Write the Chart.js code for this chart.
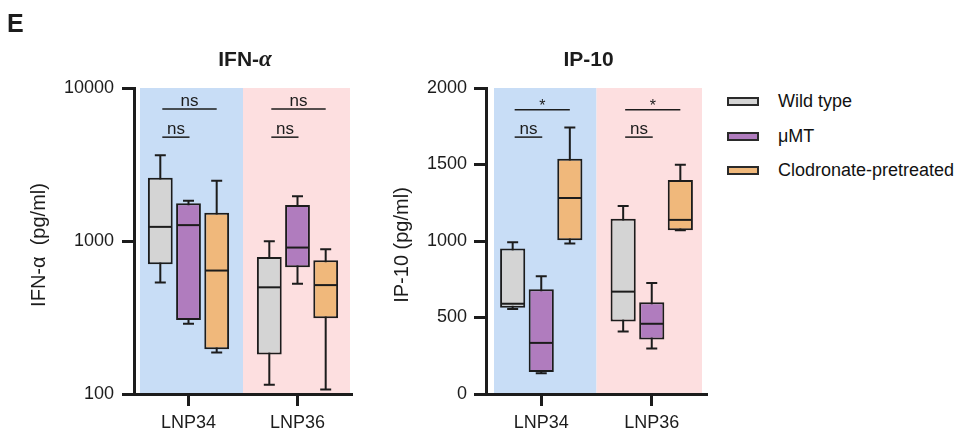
<!DOCTYPE html>
<html>
<head>
<meta charset="utf-8">
<script src="https://cdn.jsdelivr.net/npm/chart.js@4.4.1/dist/chart.umd.min.js"></script>
<style>
  html, body { margin: 0; padding: 0; background: #fff; width: 960px; height: 434px; overflow: hidden; }
  body { font-family: "Liberation Sans", Arial, sans-serif; color: #111; }
  canvas { position: absolute; top: 0; }
  #ifn { left: 0; }
  #ip10 { left: 360px; }
  .lg-swatch { position: absolute; left: 727px; width: 32px; height: 9px; box-sizing: border-box; border: 2px solid #2a2a2a; }
  .lg-text { position: absolute; left: 778px; font-size: 18px; line-height: 20px; white-space: nowrap; }
</style>
</head>
<body>
<canvas id="ifn" width="360" height="434"></canvas>
<canvas id="ip10" width="360" height="434"></canvas>
<div id="legend"></div>
<script>
// Categories and groups
const categories = ['LNP34', 'LNP36'];
const groups = ['Wild type', 'μMT', 'Clodronate-pretreated'];
const groupColors = ['#d4d4d4', '#b07cbe', '#f0b87b'];
const bandColors = ['#c8ddf6', '#fddfe0'];

// Five-number summaries per category: [min, q1, median, q3, max]
const ifnWildType = [[535, 705, 1237, 2594, 3640], [115, 181, 498, 787, 997]];
const ifnMuMT     = [[288, 305, 1270, 1762, 1832], [526, 673, 906, 1717, 1959]];
const ifnClod     = [[187, 196, 641, 1528, 2478], [107, 313, 515, 748, 883]];

const ipWildType  = [[555, 564, 590, 951, 992], [409, 474, 669, 1145, 1228]];
const ipMuMT      = [[135, 144, 334, 684, 769], [297, 356, 459, 599, 725]];
const ipClod      = [[984, 1005, 1281, 1538, 1742], [1071, 1071, 1138, 1399, 1499]];

// Axis ticks
const ifnTicks = [100, 1000, 10000];
const ipTicks = [0, 500, 1000, 1500, 2000];

// Significance labels per category (top bracket: WT vs Clodronate, lower: WT vs μMT)
const ifnSigTop = ['ns', 'ns'];
const ifnSigLow = ['ns', 'ns'];
const ipSigTop = ['*', '*'];
const ipSigLow = ['ns', 'ns'];

const FONT = '"Liberation Sans", Arial, sans-serif';
const INK = '#1c1c1c';

const boxPlugin = {
  id: 'boxplot',
  beforeDraw(chart, args, o) {
    const { ctx, chartArea: a, scales: { x } } = chart;
    const n = chart.data.labels.length;
    const half = (x.getPixelForValue(1) - x.getPixelForValue(0)) / 2;
    ctx.save();
    for (let i = 0; i < n; i++) {
      const c = x.getPixelForValue(i);
      let l = c - half, r = c + half;
      if (i === 0) l = a.left + o.bandInset[0];
      if (i === n - 1) r = a.right - o.bandInset[1];
      ctx.fillStyle = o.bands[i];
      ctx.fillRect(l, a.top, r - l, a.bottom - a.top);
    }
    ctx.restore();
  },
  beforeDatasetsDraw(chart) {
    const { ctx, scales: { y } } = chart;
    ctx.save();
    ctx.strokeStyle = INK;
    ctx.lineWidth = 2;
    chart.data.datasets.forEach((ds, d) => {
      const meta = chart.getDatasetMeta(d);
      ds.stats.forEach((s, i) => {
        const bar = meta.data[i];
        const cx = bar.x, cap = 5.5;
        const yMin = y.getPixelForValue(s[0]);
        const yMax = y.getPixelForValue(s[4]);
        ctx.beginPath();
        ctx.moveTo(cx, yMin); ctx.lineTo(cx, yMax);
        ctx.moveTo(cx - cap, yMin); ctx.lineTo(cx + cap, yMin);
        ctx.moveTo(cx - cap, yMax); ctx.lineTo(cx + cap, yMax);
        ctx.stroke();
      });
    });
    ctx.restore();
  },
  afterDatasetsDraw(chart, args, o) {
    const { ctx, scales: { y } } = chart;
    ctx.save();
    ctx.strokeStyle = INK;
    ctx.lineWidth = 2;
    chart.data.datasets.forEach((ds, d) => {
      const meta = chart.getDatasetMeta(d);
      ds.stats.forEach((s, i) => {
        const bar = meta.data[i];
        const ym = y.getPixelForValue(s[2]);
        ctx.beginPath();
        ctx.moveTo(bar.x - bar.width / 2 + 1, ym);
        ctx.lineTo(bar.x + bar.width / 2 - 1, ym);
        ctx.stroke();
      });
    });

    // significance brackets
    const m0 = chart.getDatasetMeta(0), m1 = chart.getDatasetMeta(1), m2 = chart.getDatasetMeta(2);
    ctx.lineWidth = 1.5;
    ctx.fillStyle = INK;
    ctx.textAlign = 'center';
    ctx.textBaseline = 'alphabetic';
    const drawSig = (label, x0, x1, v) => {
      const yy = y.getPixelForValue(v);
      ctx.beginPath();
      ctx.moveTo(x0, yy); ctx.lineTo(x1, yy);
      ctx.stroke();
      if (label === '*') {
        ctx.font = '16px ' + FONT;
        ctx.fillText(label, (x0 + x1) / 2, yy + 1);
      } else {
        ctx.font = '17px ' + FONT;
        ctx.fillText(label, (x0 + x1) / 2, yy - 3);
      }
    };
    categories.forEach((c, i) => {
      const xs = m0.data[i].x + 2;
      drawSig(o.sigTop[i], xs, m2.data[i].x, o.sigTopAt);
      drawSig(o.sigLow[i], xs, m1.data[i].x + 1, o.sigLowAt);
    });
    ctx.restore();
  },
  afterDraw(chart, args, o) {
    const { ctx, chartArea: a } = chart;
    ctx.save();
    ctx.fillStyle = INK;
    // chart title (may contain a Greek part drawn in italic)
    const parts = o.title;
    ctx.textBaseline = 'alphabetic';
    ctx.textAlign = 'left';
    let total = 0;
    parts.forEach(p => { ctx.font = p.font; total += ctx.measureText(p.text).width; });
    let tx = (a.left + a.right) / 2 + o.titleShift - total / 2;
    parts.forEach(p => { ctx.font = p.font; ctx.fillText(p.text, tx, a.top - 22); tx += ctx.measureText(p.text).width; });

    // y-axis title
    ctx.save();
    ctx.translate(o.yTitleX, (a.top + a.bottom) / 2 + 4);
    ctx.rotate(-Math.PI / 2);
    ctx.textAlign = 'center';
    ctx.textBaseline = 'middle';
    ctx.font = '20px ' + FONT;
    ctx.fillText(o.yTitle, 0, 0);
    ctx.restore();

    if (o.panel) {
      ctx.font = 'bold 25px ' + FONT;
      ctx.textAlign = 'left';
      ctx.fillText(o.panel, 7, 32);
    }
    ctx.restore();
  }
};

function makeDatasets(statsList) {
  return statsList.map((stats, g) => ({
    label: groups[g],
    stats: stats,
    data: stats.map(s => [s[1], s[3]]),
    backgroundColor: groupColors[g],
    borderColor: INK,
    borderWidth: 2,
    borderSkipped: false,
    categoryPercentage: 0.776,
    barPercentage: 0.88
  }));
}

function axisCommon() {
  return {
    grid: { display: true, drawOnChartArea: false, drawTicks: true, tickLength: 12, tickWidth: 3, tickColor: INK, color: 'rgba(0,0,0,0)' },
    border: { display: true, color: INK, width: 3 }
  };
}

function makeChart(id, statsList, yScale, leftWidth, rightPad, plug) {
  return new Chart(document.getElementById(id), {
    type: 'bar',
    data: { labels: categories, datasets: makeDatasets(statsList) },
    options: {
      responsive: false,
      animation: false,
      devicePixelRatio: 1,
      layout: { padding: { top: 88, right: rightPad, left: 0, bottom: 0 } },
      plugins: { legend: { display: false }, tooltip: { enabled: false }, title: { display: false }, boxplot: plug },
      scales: {
        x: Object.assign(axisCommon(), {
          type: 'category',
          offset: true,
          grid: Object.assign(axisCommon().grid, { offset: false }),
          ticks: { font: { size: 18, family: FONT }, color: INK, padding: 6, maxRotation: 0 },
          afterFit: s => { s.height = 40; }
        }),
        y: Object.assign(axisCommon(), yScale, {
          afterFit: s => { s.width = leftWidth; }
        })
      }
    },
    plugins: [boxPlugin]
  });
}

makeChart('ifn', [ifnWildType, ifnMuMT, ifnClod], {
  type: 'logarithmic', min: 100, max: 10000,
  afterBuildTicks: s => { s.ticks = ifnTicks.map(v => ({ value: v })); },
  ticks: { callback: v => String(v), font: { size: 18, family: FONT }, color: INK, padding: 8 }
}, 134, 8, {
  bands: bandColors, bandInset: [6, 2],
  sigTop: ifnSigTop, sigLow: ifnSigLow, sigTopAt: 7280, sigLowAt: 4772,
  title: [{ text: 'IFN-', font: 'bold 21px ' + FONT }, { text: 'α', font: 'italic bold 23px "Liberation Serif", serif' }],
  titleShift: 2,
  yTitle: 'IFN-α  (pg/ml)', yTitleX: 39, panel: 'E'
});

makeChart('ip10', [ipWildType, ipMuMT, ipClod], {
  type: 'linear', min: 0, max: 2000,
  afterBuildTicks: s => { s.ticks = ipTicks.map(v => ({ value: v })); },
  ticks: { callback: v => String(v), font: { size: 18, family: FONT }, color: INK, padding: 7 }
}, 126, 13, {
  bands: bandColors, bandInset: [8, 5],
  sigTop: ipSigTop, sigLow: ipSigLow, sigTopAt: 1858, sigLowAt: 1679,
  title: [{ text: 'IP-10', font: 'bold 21px ' + FONT }],
  titleShift: -8,
  yTitle: 'IP-10 (pg/ml)', yTitleX: 42, panel: null
});

// Legend
const legend = document.getElementById('legend');
const legendRows = [101, 136, 170];
groups.forEach((g, i) => {
  const sw = document.createElement('div');
  sw.className = 'lg-swatch';
  sw.style.top = (legendRows[i] - 4.5) + 'px';
  sw.style.background = groupColors[i];
  const tx = document.createElement('div');
  tx.className = 'lg-text';
  tx.style.top = (legendRows[i] - 10) + 'px';
  tx.textContent = g;
  legend.appendChild(sw);
  legend.appendChild(tx);
});
</script>
</body>
</html>
